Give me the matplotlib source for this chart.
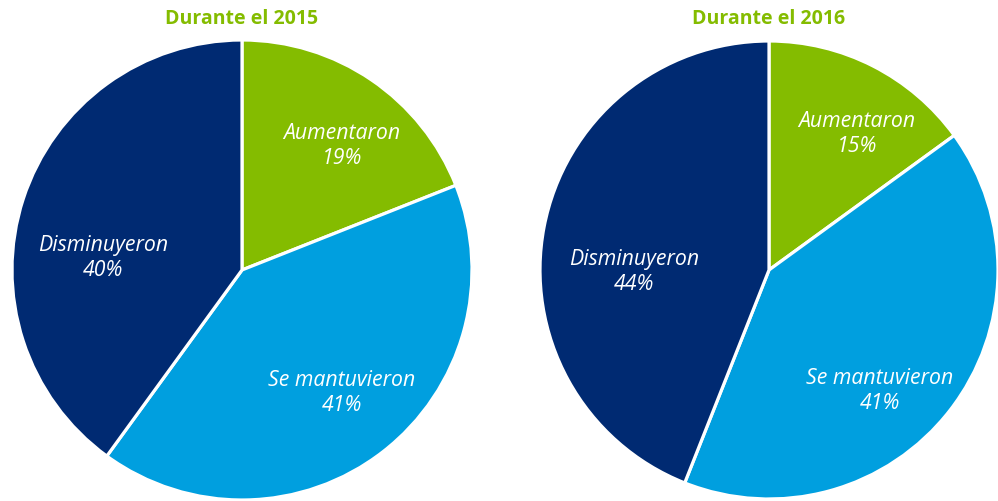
import matplotlib.pyplot as plt

plt.rcParams['font.family'] = ['Open Sans', 'DejaVu Sans']

# Data
categories = ['Aumentaron', 'Se mantuvieron', 'Disminuyeron']
values_2015 = [19, 41, 40]
values_2016 = [15, 41, 44]
titles = ['Durante el 2015', 'Durante el 2016']

colors = ['#84BC00', '#009FDF', '#002A72']
title_color = '#84BC00'

# label anchor positions inside each pie (radius units)
label_pos_2015 = [(0.435, 0.54), (0.435, -0.535), (-0.605, 0.05)]
label_pos_2016 = [(0.384, 0.594), (0.485, -0.528), (-0.59, -0.01)]

W, H = 998, 501
fig = plt.figure(figsize=(W / 100, H / 100), dpi=100)

# axes boxes in pixels: left, top, size
boxes = [(12, 40, 460), (540, 41, 458)]

for (x0, y0, s), vals, title, lpos in zip(boxes, [values_2015, values_2016], titles,
                                         [label_pos_2015, label_pos_2016]):
    ax = fig.add_axes([x0 / W, (H - y0 - s) / H, s / W, s / H])
    wedges, _ = ax.pie(vals, colors=colors, startangle=90, counterclock=False,
                       wedgeprops=dict(edgecolor='white', linewidth=2.3))
    for cat, v, (px, py) in zip(categories, vals, lpos):
        ax.text(px, py, f'{cat}\n{v}%', ha='center', va='center', color='white',
                fontsize=15.3, style='italic', linespacing=1.25)
    ax.set_xlim(-1, 1)
    ax.set_ylim(-1, 1)
    ax.set_aspect('equal')
    ax.axis('off')
    fig.text((x0 + s / 2) / W, 1 - 19 / H, title, ha='center', va='center',
             color=title_color, fontsize=14, fontweight='bold')

plt.savefig('out.png', dpi=100)
